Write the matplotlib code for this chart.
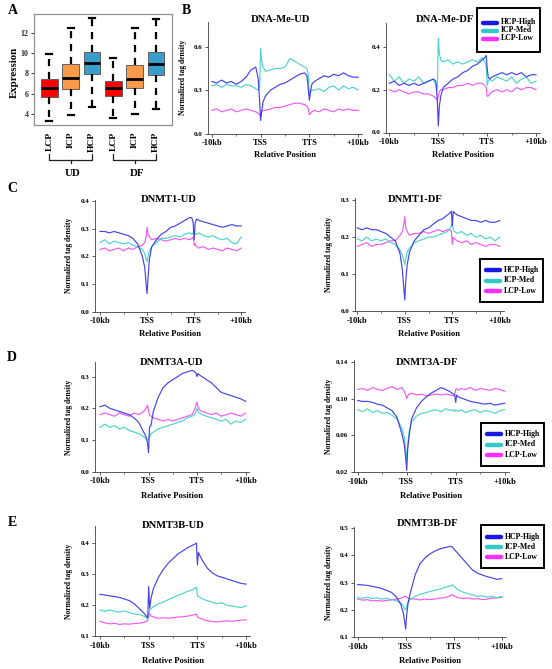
import matplotlib
matplotlib.use('Agg')
import matplotlib.pyplot as plt
from matplotlib.lines import Line2D
from matplotlib.patches import Rectangle

plt.rcParams['font.family'] = ['Liberation Serif', 'DejaVu Serif']
plt.rcParams['font.weight'] = 'bold'

W, H = 552, 669
fig = plt.figure(figsize=(W / 100, H / 100), dpi=100)

# ---------------- data: panel A (box plot) ----------------
box_labels = ['LCP', 'ICP', 'HCP', 'LCP', 'ICP', 'HCP']
box_whislo = [3.33, 3.90, 4.65, 3.57, 3.96, 4.48]
box_q1 = [5.70, 6.42, 7.90, 5.80, 6.52, 7.83]
box_med = [6.58, 7.54, 8.98, 6.52, 7.41, 8.92]
box_q3 = [7.41, 8.89, 10.07, 7.27, 8.79, 10.07]
box_whishi = [9.90, 12.43, 13.42, 9.54, 12.43, 13.35]
box_colors = ['#FF0000', '#F79A4A', '#3A9CC8', '#FF0000', '#F79A4A', '#3A9CC8']
group_labels = ['UD', 'DF']

# ---------------- data: profiles ----------------
X = [0, 10, 20, 30, 40, 50, 60, 70, 80, 90, 95, 98, 100, 102, 105, 110, 120, 130, 140,
     150, 160, 170, 180, 190, 195, 198, 200, 202, 205, 210, 220, 230, 240, 250, 260, 270,
     280, 290, 300]
x_tick_pos = [0, 100, 200, 300]
x_tick_labels = ['-10kb', 'TSS', 'TTS', '+10kb']
series_names = ['HCP-High', 'ICP-Med', 'LCP-Low']

B_UD_HCP = [0.36, 0.35, 0.37, 0.35, 0.36, 0.34, 0.36, 0.39, 0.44, 0.46, 0.38, 0.22, 0.09, 0.15, 0.22,
            0.26, 0.30, 0.32, 0.34, 0.35, 0.37, 0.39, 0.41, 0.42, 0.40, 0.30, 0.23, 0.28, 0.34,
            0.36, 0.38, 0.40, 0.39, 0.41, 0.40, 0.42, 0.40, 0.39, 0.39]
B_UD_ICP = [0.33, 0.34, 0.32, 0.34, 0.33, 0.33, 0.32, 0.34, 0.33, 0.31, 0.30, 0.32, 0.59, 0.50, 0.46,
            0.43, 0.44, 0.45, 0.45, 0.46, 0.52, 0.50, 0.48, 0.46, 0.45, 0.40, 0.26, 0.29, 0.30,
            0.30, 0.31, 0.29, 0.32, 0.33, 0.30, 0.33, 0.31, 0.32, 0.30]
B_UD_LCP = [0.16, 0.17, 0.15, 0.16, 0.17, 0.15, 0.16, 0.17, 0.16, 0.15, 0.14, 0.13, 0.12, 0.15, 0.16,
            0.16, 0.17, 0.18, 0.18, 0.19, 0.20, 0.21, 0.21, 0.20, 0.19, 0.17, 0.13, 0.14, 0.15,
            0.16, 0.15, 0.17, 0.16, 0.15, 0.17, 0.16, 0.17, 0.16, 0.16]

B_DF_HCP = [0.23, 0.24, 0.22, 0.23, 0.22, 0.23, 0.22, 0.23, 0.24, 0.25, 0.24, 0.15, 0.03, 0.12, 0.17,
            0.21, 0.23, 0.25, 0.26, 0.28, 0.29, 0.31, 0.32, 0.34, 0.35, 0.36, 0.30, 0.26, 0.25,
            0.26, 0.27, 0.28, 0.27, 0.28, 0.27, 0.28, 0.26, 0.27, 0.27]
B_DF_ICP = [0.27, 0.24, 0.26, 0.23, 0.25, 0.24, 0.26, 0.23, 0.24, 0.25, 0.22, 0.20, 0.44, 0.37, 0.34,
            0.33, 0.34, 0.32, 0.33, 0.32, 0.33, 0.34, 0.33, 0.35, 0.33, 0.31, 0.22, 0.24, 0.25,
            0.24, 0.26, 0.25, 0.24, 0.26, 0.23, 0.25, 0.26, 0.23, 0.24]
B_DF_LCP = [0.20, 0.19, 0.20, 0.19, 0.18, 0.19, 0.19, 0.18, 0.18, 0.17, 0.16, 0.15, 0.17, 0.19, 0.20,
            0.20, 0.21, 0.21, 0.22, 0.22, 0.23, 0.22, 0.23, 0.23, 0.22, 0.21, 0.17, 0.17, 0.18,
            0.19, 0.20, 0.19, 0.20, 0.19, 0.21, 0.20, 0.21, 0.21, 0.20]

C_UD_HCP = [0.29, 0.29, 0.285, 0.29, 0.285, 0.28, 0.275, 0.265, 0.245, 0.20, 0.16, 0.10, 0.065, 0.12, 0.19,
            0.235, 0.26, 0.28, 0.29, 0.305, 0.31, 0.32, 0.33, 0.34, 0.34, 0.32, 0.26, 0.32, 0.335,
            0.33, 0.325, 0.32, 0.315, 0.31, 0.305, 0.31, 0.315, 0.31, 0.31]
C_UD_ICP = [0.25, 0.26, 0.245, 0.255, 0.25, 0.245, 0.25, 0.24, 0.235, 0.225, 0.21, 0.19, 0.18, 0.20, 0.22,
            0.235, 0.25, 0.265, 0.265, 0.27, 0.275, 0.27, 0.28, 0.285, 0.28, 0.285, 0.29, 0.28, 0.28,
            0.285, 0.275, 0.27, 0.275, 0.265, 0.26, 0.265, 0.25, 0.245, 0.27]
C_UD_LCP = [0.225, 0.23, 0.22, 0.225, 0.23, 0.22, 0.23, 0.225, 0.235, 0.24, 0.25, 0.27, 0.305, 0.28, 0.27,
            0.26, 0.265, 0.26, 0.255, 0.26, 0.265, 0.26, 0.265, 0.26, 0.265, 0.27, 0.24, 0.245, 0.235,
            0.23, 0.235, 0.225, 0.23, 0.225, 0.22, 0.23, 0.225, 0.22, 0.23]

C_DF_HCP = [0.225, 0.22, 0.225, 0.22, 0.22, 0.215, 0.21, 0.20, 0.19, 0.155, 0.11, 0.06, 0.03, 0.08, 0.125,
            0.16, 0.19, 0.205, 0.22, 0.225, 0.235, 0.245, 0.25, 0.26, 0.265, 0.27, 0.23, 0.27, 0.265,
            0.26, 0.255, 0.25, 0.245, 0.245, 0.24, 0.245, 0.24, 0.24, 0.245]
C_DF_ICP = [0.195, 0.19, 0.2, 0.19, 0.195, 0.19, 0.195, 0.185, 0.18, 0.165, 0.15, 0.135, 0.125, 0.14, 0.16,
            0.17, 0.185, 0.19, 0.195, 0.2, 0.2, 0.205, 0.21, 0.215, 0.225, 0.23, 0.24, 0.22, 0.215,
            0.21, 0.215, 0.205, 0.21, 0.2, 0.205, 0.195, 0.2, 0.19, 0.2]
C_DF_LCP = [0.175, 0.18, 0.185, 0.175, 0.18, 0.18, 0.185, 0.19, 0.19, 0.205, 0.215, 0.235, 0.255, 0.225, 0.215,
            0.205, 0.21, 0.21, 0.215, 0.21, 0.215, 0.22, 0.215, 0.22, 0.22, 0.215, 0.18, 0.20, 0.195,
            0.19, 0.185, 0.19, 0.18, 0.185, 0.18, 0.175, 0.18, 0.18, 0.175]

D_UD_HCP = [0.205, 0.21, 0.2, 0.195, 0.19, 0.185, 0.18, 0.17, 0.155, 0.125, 0.11, 0.09, 0.06, 0.14, 0.145,
            0.19, 0.235, 0.265, 0.28, 0.29, 0.30, 0.31, 0.315, 0.32, 0.315, 0.31, 0.30, 0.31, 0.305,
            0.30, 0.29, 0.28, 0.265, 0.25, 0.245, 0.24, 0.235, 0.23, 0.222]
D_UD_ICP = [0.14, 0.15, 0.14, 0.145, 0.135, 0.14, 0.13, 0.125, 0.12, 0.11, 0.105, 0.10, 0.10, 0.11, 0.12,
            0.125, 0.135, 0.14, 0.145, 0.15, 0.155, 0.16, 0.17, 0.175, 0.18, 0.19, 0.2, 0.19, 0.185,
            0.18, 0.175, 0.17, 0.165, 0.16, 0.165, 0.15, 0.16, 0.155, 0.165]
D_UD_LCP = [0.18, 0.185, 0.18, 0.175, 0.185, 0.18, 0.175, 0.185, 0.18, 0.19, 0.2, 0.21, 0.19, 0.18, 0.175,
            0.17, 0.165, 0.16, 0.165, 0.16, 0.165, 0.17, 0.175, 0.18, 0.195, 0.21, 0.22, 0.205, 0.195,
            0.19, 0.185, 0.18, 0.185, 0.175, 0.18, 0.185, 0.18, 0.175, 0.185]

D_DF_HCP = [0.098, 0.097, 0.097, 0.096, 0.094, 0.093, 0.09, 0.087, 0.08, 0.062, 0.05, 0.035, 0.022, 0.045, 0.06,
            0.078, 0.09, 0.097, 0.102, 0.106, 0.109, 0.112, 0.11, 0.107, 0.105, 0.104, 0.096, 0.104, 0.102,
            0.101, 0.099, 0.097, 0.096, 0.095, 0.094, 0.095, 0.093, 0.094, 0.095]
D_DF_ICP = [0.088, 0.086, 0.089, 0.085, 0.087, 0.084, 0.085, 0.082, 0.078, 0.068, 0.058, 0.045, 0.033, 0.05, 0.065,
            0.075, 0.081, 0.084, 0.085, 0.087, 0.088, 0.086, 0.089, 0.087, 0.088, 0.086, 0.088, 0.087, 0.086,
            0.088, 0.085, 0.087, 0.088, 0.085, 0.087, 0.086, 0.084, 0.087, 0.088]
D_DF_LCP = [0.11, 0.111, 0.109, 0.112, 0.11, 0.109, 0.111, 0.113, 0.11, 0.112, 0.108, 0.104, 0.1, 0.103, 0.105,
            0.106, 0.104, 0.105, 0.103, 0.104, 0.105, 0.104, 0.105, 0.104, 0.103, 0.104, 0.11, 0.111, 0.109,
            0.111, 0.11, 0.112, 0.109, 0.111, 0.11, 0.109, 0.111, 0.11, 0.108]

E_UD_HCP = [0.235, 0.233, 0.23, 0.228, 0.225, 0.22, 0.215, 0.205, 0.19, 0.175, 0.165, 0.16, 0.26, 0.19, 0.225,
            0.255, 0.29, 0.315, 0.335, 0.35, 0.365, 0.375, 0.385, 0.393, 0.397, 0.40, 0.33, 0.37, 0.36,
            0.345, 0.32, 0.305, 0.295, 0.29, 0.285, 0.28, 0.275, 0.27, 0.268]
E_UD_ICP = [0.185, 0.18, 0.185, 0.18, 0.178, 0.182, 0.176, 0.172, 0.17, 0.165, 0.16, 0.158, 0.16, 0.185, 0.19,
            0.195, 0.205, 0.21, 0.218, 0.225, 0.232, 0.238, 0.245, 0.25, 0.255, 0.258, 0.23, 0.228, 0.225,
            0.22, 0.215, 0.21, 0.205, 0.208, 0.2, 0.198, 0.195, 0.192, 0.198]
E_UD_LCP = [0.148, 0.143, 0.14, 0.142, 0.138, 0.14, 0.139, 0.141, 0.142, 0.145, 0.148, 0.152, 0.175, 0.172, 0.165,
            0.162, 0.158, 0.16, 0.158, 0.16, 0.162, 0.163, 0.165, 0.168, 0.17, 0.172, 0.163, 0.16, 0.158,
            0.155, 0.15, 0.148, 0.146, 0.148, 0.15, 0.148, 0.15, 0.152, 0.153]

E_DF_HCP = [0.293, 0.292, 0.29, 0.287, 0.283, 0.279, 0.272, 0.265, 0.25, 0.22, 0.19, 0.155, 0.13, 0.18, 0.225,
            0.265, 0.33, 0.37, 0.39, 0.405, 0.415, 0.423, 0.428, 0.432, 0.433, 0.43, 0.425, 0.42, 0.415,
            0.405, 0.385, 0.365, 0.345, 0.335, 0.328, 0.322, 0.318, 0.312, 0.315]
E_DF_ICP = [0.245, 0.243, 0.247, 0.242, 0.245, 0.24, 0.243, 0.238, 0.235, 0.225, 0.215, 0.205, 0.2, 0.215, 0.23,
            0.24, 0.25, 0.258, 0.262, 0.268, 0.272, 0.276, 0.282, 0.287, 0.29, 0.292, 0.288, 0.285, 0.28,
            0.273, 0.265, 0.26, 0.255, 0.25, 0.252, 0.247, 0.25, 0.245, 0.25]
E_DF_LCP = [0.24, 0.236, 0.238, 0.233, 0.235, 0.232, 0.235, 0.237, 0.24, 0.243, 0.247, 0.25, 0.25, 0.247, 0.244,
            0.241, 0.24, 0.237, 0.24, 0.238, 0.24, 0.243, 0.245, 0.25, 0.255, 0.256, 0.253, 0.25, 0.248,
            0.245, 0.242, 0.244, 0.24, 0.242, 0.238, 0.24, 0.243, 0.245, 0.246]

line_colors = ['#3030E6', '#38D0C8', '#F048F0']
legend_colors = ['#1818E0', '#30C8C8', '#FF30FF']


def fx(x):
    return x / W


def fy(y):
    return 1 - y / H


def px_axes(l, t, r, b):
    return fig.add_axes([l / W, 1 - b / H, (r - l) / W, (b - t) / H])


# ---------------- panel A ----------------
axA = px_axes(34, 14, 172, 125)
stats = []
for i in range(6):
    stats.append(dict(med=box_med[i], q1=box_q1[i], q3=box_q3[i],
                      whislo=box_whislo[i], whishi=box_whishi[i], fliers=[]))
bp = axA.bxp(stats, positions=range(1, 7), widths=0.78, patch_artist=True,
             showfliers=False, capwidths=0.28,
             boxprops=dict(edgecolor='#606060', linewidth=0.7),
             whiskerprops=dict(color='black', linewidth=1.6, linestyle=(0, (3.2, 2.6))),
             capprops=dict(color='black', linewidth=1.6),
             medianprops=dict(color='black', linewidth=2.0))
for patch, c in zip(bp['boxes'], box_colors):
    patch.set_facecolor(c)
axA.set_xlim(0.28, 6.75)
axA.set_ylim(2.92, 13.84)
axA.set_yticks([4, 6, 8, 10, 12])
axA.set_yticklabels(['4', '6', '8', '10', '12'], fontsize=5.8, fontweight='bold')
axA.set_xticks(range(1, 7))
axA.set_xticklabels(box_labels, rotation=90, fontsize=6.8, fontweight='bold')
axA.tick_params(axis='x', length=0, pad=5)
axA.tick_params(axis='y', length=2.5, width=0.7, pad=1.5, colors='#303030')
for s in axA.spines.values():
    s.set_color('#909090')
    s.set_linewidth(0.9)
fig.text(fx(14), fy(72), 'Expression', rotation=90, ha='center', va='center',
         fontsize=7.8, fontweight='bold')

# brackets under groups
trA = axA.get_xaxis_transform()
y_top = -(154 - 125) / (125 - 14)
y_bot = -(160 - 125) / (125 - 14)
y_notch = -(163 - 125) / (125 - 14)
for g, (a, b) in enumerate([(1, 3), (4, 6)]):
    axA.plot([a, a, b, b], [y_top, y_bot, y_bot, y_top], color='#202020', lw=0.9,
             transform=trA, clip_on=False)
    mid = (a + b) / 2
    axA.plot([mid, mid], [y_bot, y_notch], color='#202020', lw=0.9,
             transform=trA, clip_on=False)
    axA.text(mid + 0.1, -(173 - 125) / (125 - 14), group_labels[g], transform=trA,
             ha='center', va='center', fontsize=7.8, fontweight='bold')

# ---------------- profile panels ----------------
panels = [
    dict(box=(208, 22, 362, 133.5), xlim=(-8, 308), ylim=(0, 0.772), yt=[0, 0.3, 0.6], fmt='{:.1f}',
         data=(B_UD_HCP, B_UD_ICP, B_UD_LCP), title='DNA-Me-UD', txy=(280, 20), ylx=183, xly=155),
    dict(box=(386, 23, 540, 132.5), xlim=(-7, 308), ylim=(0, 0.512), yt=[0, 0.2, 0.4], fmt='{:.1f}',
         data=(B_DF_HCP, B_DF_ICP, B_DF_LCP), title='DNA-Me-DF', txy=(445, 20), ylx=None, xly=155),
    dict(box=(95, 200, 245, 311.5), xlim=(-10.6, 308), ylim=(0, 0.404), yt=[0, 0.1, 0.2, 0.3, 0.4],
         fmt='{:.1f}', data=(C_UD_HCP, C_UD_ICP, C_UD_LCP), title='DNMT1-UD', txy=(169, 199),
         ylx=69, xly=334),
    dict(box=(355, 198.3, 503.6, 311), xlim=(-4.8, 308), ylim=(0, 0.305), yt=[0, 0.1, 0.2, 0.3],
         fmt='{:.1f}', data=(C_DF_HCP, C_DF_ICP, C_DF_LCP), title='DNMT1-DF', txy=(415, 199),
         ylx=329, xly=334),
    dict(box=(95, 362, 249.4, 471.7), xlim=(-10.3, 308), ylim=(0, 0.346), yt=[0, 0.1, 0.2, 0.3],
         fmt='{:.1f}', data=(D_UD_HCP, D_UD_ICP, D_UD_LCP), title='DNMT3A-UD', txy=(172, 362),
         ylx=69, xly=496),
    dict(box=(354, 360, 508.6, 472.3), xlim=(-7.6, 308), ylim=(0.02, 0.142), yt=[0.02, 0.06, 0.10, 0.14],
         fmt='{:.2f}', data=(D_DF_HCP, D_DF_ICP, D_DF_LCP), title='DNMT3A-DF', txy=(427, 362),
         ylx=329, xly=496),
    dict(box=(95, 526.3, 250, 636.3), xlim=(-10.3, 308), ylim=(0.1, 0.454), yt=[0.1, 0.2, 0.3, 0.4],
         fmt='{:.1f}', data=(E_UD_HCP, E_UD_ICP, E_UD_LCP), title='DNMT3B-UD', txy=(173, 526),
         ylx=69, xly=661),
    dict(box=(354.3, 527.3, 505.5, 637.3), xlim=(-7, 308), ylim=(0.1, 0.503), yt=[0.1, 0.2, 0.3, 0.4, 0.5],
         fmt='{:.1f}', data=(E_DF_HCP, E_DF_ICP, E_DF_LCP), title='DNMT3B-DF', txy=(428, 524),
         ylx=329, xly=661),
]

for p in panels:
    l, t, r, b = p['box']
    ax = px_axes(l, t, r, b)
    hcp, icp, lcp = p['data']
    ax.plot(X, lcp, color=line_colors[2], lw=0.85, alpha=0.9)
    ax.plot(X, icp, color=line_colors[1], lw=0.85, alpha=0.9)
    ax.plot(X, hcp, color=line_colors[0], lw=0.85, alpha=0.9)
    ax.set_xlim(*p['xlim'])
    ax.set_ylim(*p['ylim'])
    ax.set_xticks(x_tick_pos)
    ax.set_xticklabels(x_tick_labels, fontsize=6, fontweight='bold')
    ax.set_xticks([50, 150, 250], minor=True)
    ax.set_yticks(p['yt'])
    ax.set_yticklabels([p['fmt'].format(v) for v in p['yt']], fontsize=5.0, fontweight='bold')
    for s in ['top', 'right']:
        ax.spines[s].set_visible(False)
    for s in ['left', 'bottom']:
        ax.spines[s].set_color('#404040')
        ax.spines[s].set_linewidth(0.6)
    ax.tick_params(axis='both', which='major', length=2.5, width=0.6, color='#404040', pad=1.5)
    ax.tick_params(axis='both', which='minor', length=1.5, width=0.5, color='#404040')
    fig.text(fx(p['txy'][0]), fy(p['txy'][1]), p['title'], ha='center', va='center',
             fontsize=7.6, fontweight='bold')
    fig.text(fx((l + r) / 2), fy(p['xly']), 'Relative Position', ha='center', va='center',
             fontsize=6.2, fontweight='bold')
    if p['ylx'] is not None:
        fig.text(fx(p['ylx']), fy((t + b) / 2), 'Normalized tag density', rotation=90,
                 ha='center', va='center', fontsize=5.5, fontweight='bold')


# ---------------- legends ----------------
def draw_legend(l, t, r, b, ys):
    fig.add_artist(Rectangle((fx(l), fy(b)), (r - l) / W, (b - t) / H, transform=fig.transFigure,
                             facecolor='white', edgecolor='black', lw=1.4, zorder=5))
    for y, name, c in zip(ys, series_names, legend_colors):
        fig.add_artist(Line2D([fx(l + 6), fx(l + 20)], [fy(y), fy(y)], transform=fig.transFigure,
                              color=c, lw=3.2, solid_capstyle='round', zorder=6))
        t_ = fig.text(fx(l + 24), fy(y), name, ha='left', va='center', fontsize=5.6,
                      fontweight='bold')
        t_.set_zorder(7)


draw_legend(477, 8, 540, 52, [22.5, 30.5, 38.5])
draw_legend(480, 259, 543, 302, [270, 280.5, 291])
draw_legend(481, 423, 544, 466, [434, 444.5, 455])
draw_legend(481, 525, 544, 568, [537, 547, 557])

# ---------------- panel letters ----------------
for letter, (x, y) in zip('ABCDE', [(13, 11), (186, 10), (12, 189), (12, 358), (12, 522)]):
    fig.text(fx(x), fy(y), letter, ha='center', va='center', fontsize=10, fontweight='bold')

fig.savefig('out.png', dpi=100)
